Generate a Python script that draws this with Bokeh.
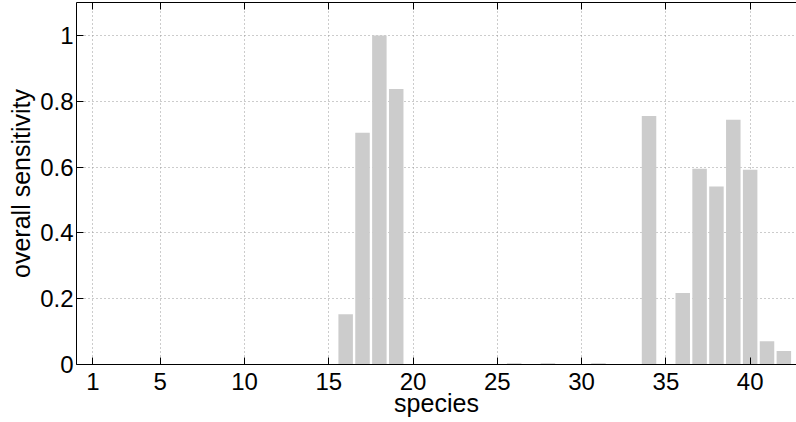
from bokeh.plotting import figure
from bokeh.models import LinearAxis, FixedTicker, CustomJSTickFormatter, Range1d
from bokeh.embed import file_html
from bokeh.resources import INLINE

species = list(range(1, 43))
sensitivity = [0, 0, 0, 0, 0, 0, 0, 0, 0, 0,
               0, 0, 0, 0, 0, 0.153, 0.704, 1.0, 0.837, 0,
               0, 0, 0, 0, 0, 0.004, 0, 0.004, 0, 0,
               0.004, 0, 0, 0.755, 0, 0.217, 0.595, 0.541, 0.744, 0.592,
               0.071, 0.041]
x_ticks = [1, 5, 10, 15, 20, 25, 30, 35, 40]
y_ticks = [0, 0.2, 0.4, 0.6, 0.8, 1.0]

FONT = "Liberation Sans"
FS = "24px"
LFS = "25px"

p = figure(width=796, height=422, output_backend="svg", toolbar_location=None,
           x_range=Range1d(0.03, 42.75), y_range=Range1d(0, 1.1),
           min_border_left=76, min_border_right=0, min_border_top=2, min_border_bottom=58,
           x_axis_label="species", y_axis_label="overall sensitivity")
p.outline_line_color = None
p.background_fill_color = "white"
p.border_fill_color = "white"

p.vbar(x=species, top=sensitivity, width=0.86, bottom=0,
       fill_color="#cccccc", line_color=None)

fmt = CustomJSTickFormatter(code="return String(Math.round(tick*10)/10);")

for ax in (p.xaxis[0], p.yaxis[0]):
    ax.major_tick_in = 7
    ax.major_tick_out = 0
    ax.minor_tick_line_color = None
    ax.axis_line_color = "black"
    ax.axis_line_width = 1
    ax.major_tick_line_color = "black"
    ax.major_label_text_font = FONT
    ax.major_label_text_font_size = FS
    ax.major_label_text_color = "black"
    ax.axis_label_text_font = FONT
    ax.axis_label_text_font_size = LFS
    ax.axis_label_text_font_style = "normal"
    ax.axis_label_text_color = "black"

p.xaxis[0].ticker = FixedTicker(ticks=x_ticks)
p.yaxis[0].ticker = FixedTicker(ticks=y_ticks)
p.yaxis[0].formatter = fmt
p.xaxis[0].major_label_standoff = 8
p.xaxis[0].axis_label_standoff = -4
p.yaxis[0].major_label_standoff = 3
p.yaxis[0].axis_label_standoff = 2

top = LinearAxis(ticker=FixedTicker(ticks=x_ticks), major_tick_in=7, major_tick_out=0,
                 minor_tick_line_color=None, axis_line_color="black",
                 major_tick_line_color="black",
                 formatter=CustomJSTickFormatter(code="return '';"),
                 major_label_text_font_size="1px", major_label_standoff=0)
p.add_layout(top, "above")

for g in (p.xgrid[0], p.ygrid[0]):
    g.grid_line_color = "#999999"
    g.grid_line_dash = "1 3"
    g.grid_line_width = 1
p.xgrid[0].ticker = FixedTicker(ticks=x_ticks)
p.ygrid[0].ticker = FixedTicker(ticks=y_ticks)

open("out.html", "w").write(file_html(p, INLINE))
